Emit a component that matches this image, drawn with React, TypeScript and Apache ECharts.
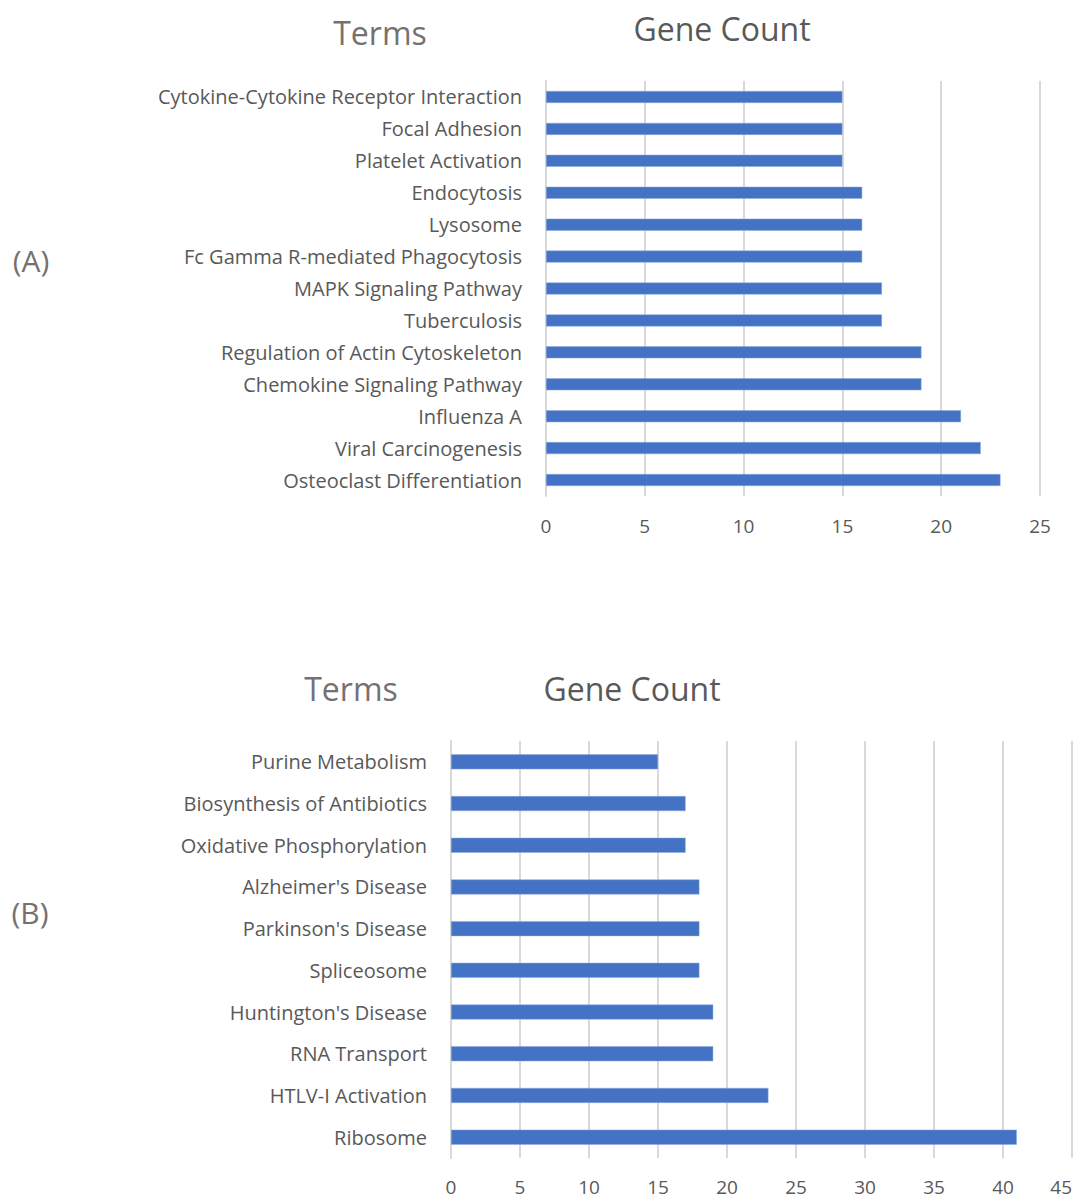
import React, { useEffect, useRef } from "react";
import * as echarts from "echarts";

const categoriesA = [
  "Cytokine-Cytokine Receptor Interaction",
  "Focal Adhesion",
  "Platelet Activation",
  "Endocytosis",
  "Lysosome",
  "Fc Gamma R-mediated Phagocytosis",
  "MAPK Signaling Pathway",
  "Tuberculosis",
  "Regulation of Actin Cytoskeleton",
  "Chemokine Signaling Pathway",
  "Influenza A",
  "Viral Carcinogenesis",
  "Osteoclast Differentiation",
];
const valuesA = [15, 15, 15, 16, 16, 16, 17, 17, 19, 19, 21, 22, 23];

const categoriesB = [
  "Purine Metabolism",
  "Biosynthesis of Antibiotics",
  "Oxidative Phosphorylation",
  "Alzheimer's Disease",
  "Parkinson's Disease",
  "Spliceosome",
  "Huntington's Disease",
  "RNA Transport",
  "HTLV-I Activation",
  "Ribosome",
];
const valuesB = [15, 17, 17, 18, 18, 18, 19, 19, 23, 41];

const FONT = "Open Sans";
const GRID_COLOR = "#d9d9d9";
const LABEL_COLOR = "#595959";
const BAR_COLOR = "#4472c4";

export default function App() {
  const ref = useRef<HTMLDivElement>(null);
  useEffect(() => {
    document.body.style.margin = "0";
    const chart = echarts.init(ref.current!, undefined, { renderer: "svg" });
    const xAxisCommon = {
      type: "value" as const,
      interval: 5,
      min: 0,
      axisLine: { show: false },
      axisTick: { show: false },
      splitLine: { show: true, lineStyle: { color: GRID_COLOR, width: 2 } },
      axisLabel: { color: LABEL_COLOR, fontFamily: FONT, fontSize: 19, margin: 22, lineHeight: 16 },
    };
    const yAxisCommon = {
      type: "category" as const,
      inverse: true,
      axisLine: { show: true, lineStyle: { color: GRID_COLOR, width: 2 } },
      axisTick: { show: false },
      axisLabel: { color: LABEL_COLOR, fontFamily: FONT, fontSize: 20, margin: 24 },
    };
    chart.setOption({
      animation: false,
      grid: [
        { left: 546, right: 46, top: 81, height: 415, containLabel: false },
        { left: 451, right: 14, top: 741, height: 417, containLabel: false },
      ],
      xAxis: [
        { ...xAxisCommon, gridIndex: 0, max: 25 },
        { ...xAxisCommon, gridIndex: 1, max: 45, axisLabel: { ...xAxisCommon.axisLabel, alignMaxLabel: "right", margin: 21 } },
      ],
      yAxis: [
        { ...yAxisCommon, gridIndex: 0, data: categoriesA },
        { ...yAxisCommon, gridIndex: 1, data: categoriesB },
      ],
      series: [
        {
          type: "bar",
          xAxisIndex: 0,
          yAxisIndex: 0,
          data: valuesA,
          barWidth: 12,
          itemStyle: { color: BAR_COLOR, borderColor: "#8faadc", borderWidth: 0.5 },
        },
        {
          type: "bar",
          xAxisIndex: 1,
          yAxisIndex: 1,
          data: valuesB,
          barWidth: 15,
          itemStyle: { color: BAR_COLOR, borderColor: "#8faadc", borderWidth: 0.5 },
        },
      ],
      graphic: [
        { type: "text", x: 380, y: 32, style: { text: "Terms", fill: "#767171", font: `32px ${FONT}`, align: "center", verticalAlign: "middle" } },
        { type: "text", x: 722, y: 28, style: { text: "Gene Count", fill: LABEL_COLOR, font: `32px ${FONT}`, align: "center", verticalAlign: "middle" } },
        { type: "text", x: 31, y: 260, style: { text: "(A)", fill: "#767171", font: `30px ${FONT}`, align: "center", verticalAlign: "middle" } },
        { type: "text", x: 351, y: 688, style: { text: "Terms", fill: "#767171", font: `32px ${FONT}`, align: "center", verticalAlign: "middle" } },
        { type: "text", x: 632, y: 688, style: { text: "Gene Count", fill: LABEL_COLOR, font: `32px ${FONT}`, align: "center", verticalAlign: "middle" } },
        { type: "text", x: 30, y: 912, style: { text: "(B)", fill: "#767171", font: `30px ${FONT}`, align: "center", verticalAlign: "middle" } },
      ],
    });
    return () => chart.dispose();
  }, []);
  return <div ref={ref} style={{ width: 1086, height: 1199, position: "absolute", left: 0, top: 0 }} />;
}
